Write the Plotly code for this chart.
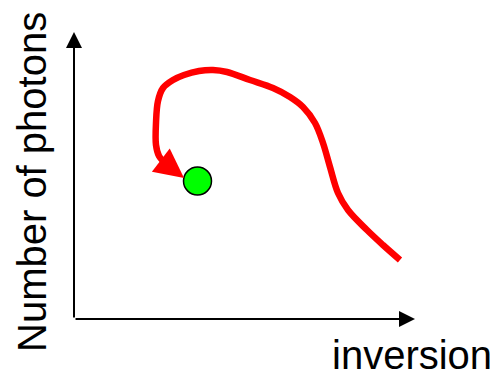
import plotly.graph_objects as go

# curve data (inversion, photons), axis origin at (0,0)
curve_x = [326, 309, 293, 274, 264, 256, 249, 241, 229, 216, 199, 176, 153, 139, 125, 110, 99, 89, 84, 82, 82, 85, 90, 97]
curve_y = [59, 74, 89, 109, 126, 152, 176, 196, 212, 222, 231, 239, 247, 249, 248, 244, 239, 231, 218, 196, 174, 163, 157, 151]
arrow_tip = (110, 141)
point_x = [123.5]
point_y = [138]
xaxis_end = 341
yaxis_end = 287

fig = go.Figure()
# red curve
fig.add_trace(go.Scatter(x=curve_x, y=curve_y, mode="lines",
                         line=dict(color="#ff0000", width=6.5, shape="spline", smoothing=1),
                         hoverinfo="skip"))
# green point
fig.add_trace(go.Scatter(x=point_x, y=point_y, mode="markers",
                         marker=dict(size=28, color="#00ff00", line=dict(color="black", width=1.5)),
                         hoverinfo="skip"))

# curve arrowhead
fig.add_annotation(x=arrow_tip[0], y=arrow_tip[1], ax=curve_x[-1], ay=curve_y[-1],
                   xref="x", yref="y", axref="x", ayref="y", text="", showarrow=True,
                   arrowhead=2, arrowsize=0.9, arrowwidth=6.5, arrowcolor="#ff0000", standoff=0)
# axes with arrows
fig.add_annotation(x=xaxis_end, y=0, ax=0, ay=0, xref="x", yref="y", axref="x", ayref="y",
                   text="", showarrow=True, arrowhead=2, arrowsize=1.6, arrowwidth=2,
                   arrowcolor="black", standoff=0)
fig.add_annotation(x=0, y=yaxis_end, ax=0, ay=0, xref="x", yref="y", axref="x", ayref="y",
                   text="", showarrow=True, arrowhead=2, arrowsize=1.6, arrowwidth=2,
                   arrowcolor="black", standoff=0)

fig.add_annotation(text="inversion", x=338, y=-36, xref="x", yref="y", showarrow=False,
                   font=dict(family="Liberation Sans, Arial", size=40, color="black"))
fig.add_annotation(text="Number of photons", x=-42, y=137, xref="x", yref="y", showarrow=False,
                   textangle=-90, font=dict(family="Liberation Sans, Arial", size=40, color="black"))

fig.update_layout(width=498, height=375, margin=dict(l=0, r=0, t=0, b=0),
                  paper_bgcolor="white", plot_bgcolor="white", showlegend=False,
                  xaxis=dict(range=[-66, 432], visible=False, fixedrange=True),
                  yaxis=dict(range=[-64, 311], visible=False, fixedrange=True))
fig.write_html("out.html")
